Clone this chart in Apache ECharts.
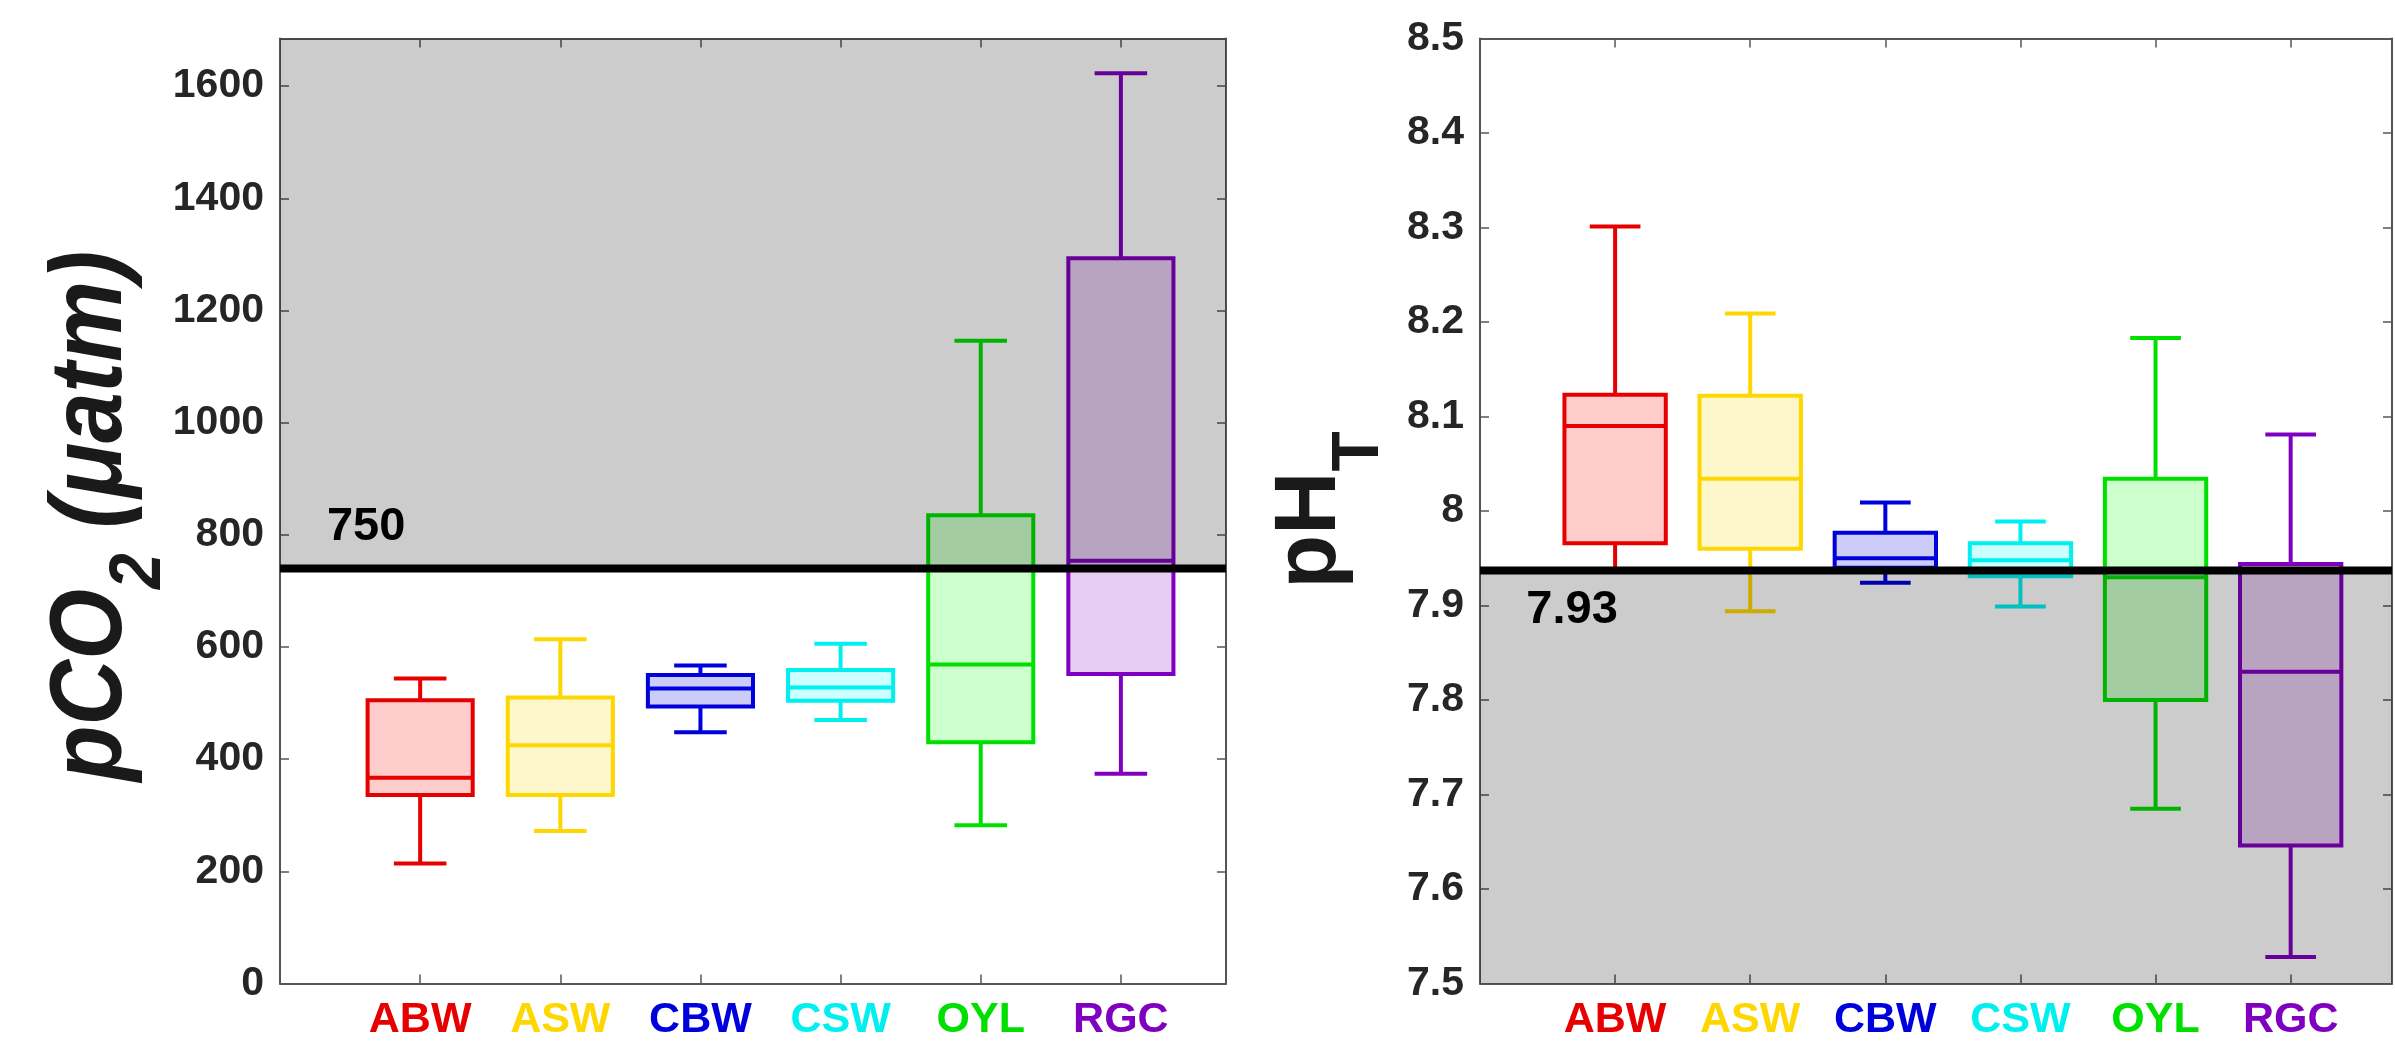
<!DOCTYPE html>
<html>
<head>
<meta charset="utf-8">
<script src="https://cdn.jsdelivr.net/npm/echarts@6/dist/echarts.min.js"></script>
<style>
html,body{margin:0;padding:0;background:#ffffff;}
#chart{width:2395px;height:1043px;}
</style>
</head>
<body>
<div id="chart"></div>
<script>
// ---------- data ----------
const categories = ['ABW', 'ASW', 'CBW', 'CSW', 'OYL', 'RGC'];
const lineColors = ['#E60000', '#FFD700', '#0000DD', '#00F0F0', '#00E000', '#8000BF'];
const fillColors = ['#FFCCCC', '#FFF7CC', '#CCCCF8', '#CCFFFF', '#CCFFCC', '#E6CCF2'];

// pCO2 (µatm): lower whisker, Q1, median, Q3, upper whisker
const pco2Lower  = [214, 272, 448, 470, 282, 374];
const pco2Q1     = [336, 336, 494, 504, 430, 552];
const pco2Median = [367, 425, 526, 528, 569, 754];
const pco2Q3     = [505, 510, 550, 559, 835, 1293];
const pco2Upper  = [544, 614, 567, 606, 1146, 1623];

// pH_T: lower whisker, Q1, median, Q3, upper whisker
const phLower  = [7.937, 7.894, 7.924, 7.899, 7.685, 7.528];
const phQ1     = [7.966, 7.960, 7.940, 7.931, 7.800, 7.646];
const phMedian = [8.090, 8.034, 7.950, 7.948, 7.930, 7.830];
const phQ3     = [8.123, 8.122, 7.977, 7.966, 8.034, 7.944];
const phUpper  = [8.301, 8.209, 8.009, 7.989, 8.183, 8.081];

// thresholds
const pco2Threshold = 740;
const pco2ThresholdLabel = '750';
const phThreshold = 7.937;
const phThresholdLabel = '7.93';

// axis ranges
const xMin = 0, xMax = 6.75;
const pco2Min = 0, pco2Max = 1685, pco2Step = 200;
const phMin = 7.5, phMax = 8.5, phStep = 0.1;

// ---------- helpers ----------
const FONT = '"Liberation Sans", Arial, Helvetica, sans-serif';
const AXIS_COLOR = '#555555';
const TEXT_COLOR = '#262626';

const richCats = {};
categories.forEach((c, i) => {
  richCats['c' + i] = { color: lineColors[i], fontSize: 43, fontWeight: 'bold', fontFamily: FONT };
});

function boxData(lo, q1, med, q3, hi) {
  return categories.map((c, i) => [i + 1, lo[i], q1[i], med[i], q3[i], hi[i]]);
}

function xAxisDef(gridIndex, position, showLabels) {
  return {
    type: 'value', gridIndex, position, min: xMin, max: xMax, interval: 1,
    axisLine: { show: true, onZero: false, lineStyle: { color: AXIS_COLOR, width: 2 } },
    axisTick: { show: true, inside: true, length: 9, lineStyle: { color: AXIS_COLOR, width: 1.5 } },
    splitLine: { show: false },
    axisLabel: showLabels ? {
      show: true, margin: 15,
      formatter: v => {
        const k = Math.round(v);
        return (Math.abs(v - k) < 1e-6 && k >= 1 && k <= categories.length) ? '{c' + (k - 1) + '|' + categories[k - 1] + '}' : '';
      },
      rich: richCats
    } : { show: false }
  };
}

function yAxisDef(gridIndex, position, min, max, step, showLabels, fmt) {
  return {
    type: 'value', gridIndex, position, min, max, interval: step,
    axisLine: { show: true, onZero: false, lineStyle: { color: AXIS_COLOR, width: 2 } },
    axisTick: { show: true, inside: true, length: 9, lineStyle: { color: AXIS_COLOR, width: 1.5 } },
    splitLine: { show: false },
    axisLabel: showLabels ? {
      show: true, margin: 16, color: TEXT_COLOR, fontSize: 41, fontWeight: 'bold', fontFamily: FONT,
      showMaxLabel: true, formatter: fmt
    } : { show: false }
  };
}

function renderBox(params, api) {
  const i = params.dataIndex;
  const x = api.value(0);
  const lo = api.value(1), q1 = api.value(2), med = api.value(3), q3 = api.value(4), hi = api.value(5);
  const cx = api.coord([x, lo])[0];
  const hb = api.size([0.375, 0])[0];
  const hc = api.size([0.1875, 0])[0];
  const yLo = api.coord([x, lo])[1], yQ1 = api.coord([x, q1])[1], yMed = api.coord([x, med])[1];
  const yQ3 = api.coord([x, q3])[1], yHi = api.coord([x, hi])[1];
  const st = { stroke: lineColors[i], lineWidth: 4, fill: null };
  return {
    type: 'group',
    children: [
      { type: 'line', shape: { x1: cx, y1: yQ3, x2: cx, y2: yHi }, style: st },
      { type: 'line', shape: { x1: cx - hc, y1: yHi, x2: cx + hc, y2: yHi }, style: st },
      { type: 'line', shape: { x1: cx, y1: yQ1, x2: cx, y2: yLo }, style: st },
      { type: 'line', shape: { x1: cx - hc, y1: yLo, x2: cx + hc, y2: yLo }, style: st },
      { type: 'rect', shape: { x: cx - hb, y: yQ3, width: 2 * hb, height: yQ1 - yQ3 },
        style: { fill: fillColors[i], stroke: lineColors[i], lineWidth: 4 } },
      { type: 'line', shape: { x1: cx - hb, y1: yMed, x2: cx + hb, y2: yMed }, style: st }
    ]
  };
}

function renderShade(params, api) {
  const a = api.coord([xMin, api.value(2)]);
  const b = api.coord([xMax, api.value(1)]);
  return {
    type: 'rect',
    shape: { x: a[0], y: a[1], width: b[0] - a[0], height: b[1] - a[1] },
    style: { fill: '#CCCCCC' }
  };
}

function makeThreshold(label, labelX, dy, vAlign) {
  return function (params, api) {
    const y = api.value(1);
    const p0 = api.coord([xMin, y]), p1 = api.coord([xMax, y]);
    const pl = api.coord([labelX, y]);
    return {
      type: 'group',
      children: [
        { type: 'line', shape: { x1: p0[0], y1: p0[1], x2: p1[0], y2: p1[1] }, style: { stroke: '#000000', lineWidth: 8 } },
        { type: 'text', x: pl[0], y: pl[1] + dy,
          style: { text: label, font: 'bold 47px ' + FONT, fill: '#000000', align: 'left', verticalAlign: vAlign } }
      ]
    };
  };
}

const chart = echarts.init(document.getElementById('chart'), null, { renderer: 'canvas' });

const option = {
  backgroundColor: '#ffffff',
  animation: false,
  grid: [
    { left: 280, top: 38.5, width: 946, height: 945 },
    { left: 1480, top: 38.5, width: 946, height: 945 }
  ],
  xAxis: [
    xAxisDef(0, 'bottom', true),
    xAxisDef(0, 'top', false),
    xAxisDef(1, 'bottom', true),
    xAxisDef(1, 'top', false)
  ],
  yAxis: [
    yAxisDef(0, 'left', pco2Min, pco2Max, pco2Step, true,
      v => (Math.abs(v / pco2Step - Math.round(v / pco2Step)) < 1e-6) ? String(Math.round(v)) : ''),
    yAxisDef(0, 'right', pco2Min, pco2Max, pco2Step, false),
    yAxisDef(1, 'left', phMin, phMax, phStep, true, v => String(Math.round(v * 10) / 10)),
    yAxisDef(1, 'right', phMin, phMax, phStep, false)
  ],
  graphic: [
    {
      type: 'text', x: 93, y: 516, rotation: Math.PI / 2, scaleY: 1.12, z: 10,
      style: {
        text: '{m|pCO}{s|2}{m| (μatm)}',
        align: 'center', verticalAlign: 'middle', fill: '#1a1a1a',
        rich: {
          m: { fontSize: 91, fontWeight: 'bold', fontStyle: 'italic', fontFamily: FONT, lineHeight: 91, verticalAlign: 'top', fill: '#1a1a1a' },
          s: { fontSize: 64, fontWeight: 'bold', fontStyle: 'italic', fontFamily: FONT, lineHeight: 64, verticalAlign: 'top', padding: [56, 0, 0, 0], fill: '#1a1a1a' }
        }
      }
    },
    {
      type: 'text', x: 1311, y: 510, rotation: Math.PI / 2, z: 10,
      style: {
        text: '{m|pH}{s|T}',
        align: 'center', verticalAlign: 'middle', fill: '#1a1a1a',
        rich: {
          m: { fontSize: 88, fontWeight: 'bold', fontFamily: FONT, lineHeight: 88, verticalAlign: 'top', fill: '#1a1a1a' },
          s: { fontSize: 66, fontWeight: 'bold', fontFamily: FONT, lineHeight: 66, verticalAlign: 'top', padding: [60, 0, 0, 0], fill: '#1a1a1a' }
        }
      }
    }
  ],
  series: [
    { type: 'custom', name: 'pCO2', xAxisIndex: 0, yAxisIndex: 0, z: 2,
      renderItem: renderBox, encode: { x: 0, y: [1, 2, 3, 4, 5] },
      data: boxData(pco2Lower, pco2Q1, pco2Median, pco2Q3, pco2Upper) },
    { type: 'custom', name: 'pCO2 shade', xAxisIndex: 0, yAxisIndex: 0, z: 3, silent: true,
      blendMode: 'multiply',
      renderItem: renderShade, encode: { x: 0, y: [1, 2] },
      data: [[xMin, pco2Threshold, pco2Max]] },
    { type: 'custom', name: 'pCO2 threshold', xAxisIndex: 0, yAxisIndex: 0, z: 4, silent: true,
      renderItem: makeThreshold(pco2ThresholdLabel, 0.335, -18, 'bottom'), encode: { x: 0, y: 1 },
      data: [[xMin, pco2Threshold]] },

    { type: 'custom', name: 'pHT', xAxisIndex: 2, yAxisIndex: 2, z: 2,
      renderItem: renderBox, encode: { x: 0, y: [1, 2, 3, 4, 5] },
      data: boxData(phLower, phQ1, phMedian, phQ3, phUpper) },
    { type: 'custom', name: 'pHT shade', xAxisIndex: 2, yAxisIndex: 2, z: 3, silent: true,
      blendMode: 'multiply',
      renderItem: renderShade, encode: { x: 0, y: [1, 2] },
      data: [[xMin, phMin, phThreshold]] },
    { type: 'custom', name: 'pHT threshold', xAxisIndex: 2, yAxisIndex: 2, z: 4, silent: true,
      renderItem: makeThreshold(phThresholdLabel, 0.343, 16, 'top'), encode: { x: 0, y: 1 },
      data: [[xMin, phThreshold]] }
  ]
};

chart.setOption(option);
</script>
</body>
</html>
